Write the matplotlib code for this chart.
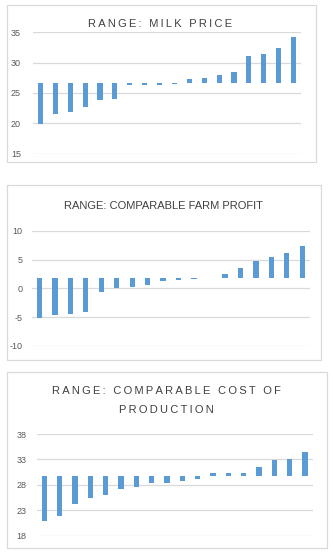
import matplotlib
matplotlib.use('Agg')
import matplotlib.pyplot as plt
from matplotlib.patches import Rectangle

# Data
n_bars = 18
milk_base = 26.6
milk_values = [19.9, 21.6, 21.9, 22.7, 23.9, 24.05, 26.4, 26.4, 26.4, 26.5,
               27.3, 27.5, 28.0, 28.5, 31.1, 31.4, 32.4, 34.2]
milk_ticks = [15, 20, 25, 30, 35]

profit_base = 1.8
profit_values = [-5.1, -4.65, -4.4, -4.05, -0.6, 0.1, 0.3, 0.65, 1.3, 1.5,
                 1.7, 1.8, 2.5, 3.55, 4.8, 5.45, 6.15, 7.4]
profit_ticks = [-10, -5, 0, 5, 10]

cost_base = 29.75
cost_values = [20.95, 21.9, 24.3, 25.5, 26.1, 27.25, 27.65, 28.45, 28.45, 28.85,
               29.2, 30.4, 30.4, 30.35, 31.55, 32.9, 33.1, 34.45]
cost_ticks = [18, 23, 28, 33, 38]

W, H = 333, 553
BAR = '#5b9bd5'
GRID = '#d9d9d9'
TXT = '#595959'

plt.rcParams['font.family'] = ['Liberation Sans', 'DejaVu Sans']
plt.rcParams['axes.unicode_minus'] = False
fig = plt.figure(figsize=(W / 100, H / 100), dpi=100)


def spaced(s):
    return '\u2009'.join(s)


def panel(ax_box, frame_box, base, values, ticks, title, title_xy, pad_px, spread=True):
    # frame around each chart (pixel coords, top-left origin)
    fx0, fy0, fx1, fy1 = frame_box
    fig.patches.append(Rectangle((fx0 / W, 1 - fy1 / H), (fx1 - fx0) / W, (fy1 - fy0) / H,
                                 transform=fig.transFigure, fill=False,
                                 edgecolor=GRID, linewidth=0.9))
    x0, y0, x1, y1 = ax_box
    ax = fig.add_axes([x0 / W, 1 - y1 / H, (x1 - x0) / W, (y1 - y0) / H])
    xs = list(range(len(values)))
    bottoms = [min(base, v) for v in values]
    heights = [abs(v - base) for v in values]
    ax.bar(xs, heights, bottom=bottoms, width=0.34, color=BAR, zorder=3)
    ax.set_xlim(-0.5, len(values) - 0.5)
    ax.set_ylim(ticks[0], ticks[-1])
    ax.set_yticks(ticks)
    ax.set_xticks([])
    ax.grid(axis='y', color=GRID, linewidth=0.9, zorder=0)
    for s in ax.spines.values():
        s.set_visible(False)
    ax.tick_params(axis='y', length=0, labelsize=6.5, labelcolor=TXT, pad=pad_px * 0.72)
    ax.set_facecolor('none')
    for i, line in enumerate(title):
        txt = spaced(line) if spread else line
        fig.text(title_xy[0] / W, 1 - (title_xy[1] + i * 19) / H, txt,
                 ha='center', va='center', fontsize=8, color='#404040')
    return ax


panel((33, 32.3, 301, 153.7), (6.7, 5, 316, 162), milk_base, milk_values,
      milk_ticks, ['RANGE: MILK PRICE'], (160, 24.3), 12)
panel((31.7, 231, 310, 345.7), (6.7, 185, 320.7, 360), profit_base, profit_values,
      profit_ticks, ['RANGE: COMPARABLE FARM PROFIT'], (163, 206), 9, spread=False)
panel((36.7, 434, 312.7, 535.7), (6.7, 371.7, 326.7, 547.7), cost_base, cost_values,
      cost_ticks, ['RANGE: COMPARABLE COST OF', 'PRODUCTION'], (166, 391), 10)

fig.savefig('out.png', dpi=100)
